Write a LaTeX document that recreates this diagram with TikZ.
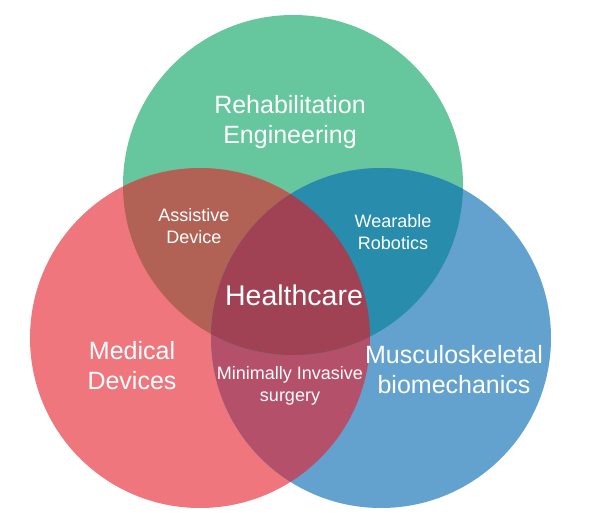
\documentclass[tikz,border=0pt]{standalone}
\usepackage{fontspec}
\setmainfont{Liberation Sans}
\usetikzlibrary{positioning}
\definecolor{crehab}{RGB}{102,199,158}
\definecolor{cmed}{RGB}{240,118,125}
\definecolor{cmus}{RGB}{99,162,207}
\definecolor{cassist}{RGB}{178,98,85}
\definecolor{cwear}{RGB}{40,140,172}
\definecolor{cmininv}{RGB}{180,80,106}
\definecolor{chealth}{RGB}{160,66,84}

\begin{document}
\begin{tikzpicture}[x=1pt, y=-1pt,
    big/.style={text=white, align=center, font=\fontsize{25}{30}\selectfont},
    small/.style={text=white, align=center, font=\fontsize{18}{21.5}\selectfont}]
	     \useasboundingbox (0,0) rectangle (600,529);
	     \def\circr{170pt}
             %
             \coordinate (g) at (293,185);
             \coordinate (r) at (200,338);
             \coordinate (b) at (381,338);
             %
             \fill[crehab] (g) circle[radius=\circr];
             \fill[cmed] (r) circle[radius=\circr];
             \fill[cmus] (b) circle[radius=\circr];
             \begin{scope}
               \clip (r) circle[radius=\circr];
               \fill[cmininv] (b) circle[radius=\circr];
             \end{scope}
             \begin{scope}
               \clip (g) circle[radius=\circr];
               \fill[cassist] (r) circle[radius=\circr];
               \fill[cwear] (b) circle[radius=\circr];
               \clip (r) circle[radius=\circr];
               \fill[chealth] (b) circle[radius=\circr];
             \end{scope}
             %
             \node[big] (rehab) at (290,122) {Rehabilitation\\Engineering};
             \node[big] (med) at (132,366) {Medical\\Devices};
             \node[big] (mus) at (454,370) {Musculoskeletal\\biomechanics};
             \node[big, font=\fontsize{28.5}{34}\selectfont] (health) at (294,295) {Healthcare};
             \node[small] (assist) at (194,226) {Assistive\\Device};
             \node[small] (wear) at (393,232) {Wearable\\Robotics};
             \node[small] (mininv) at (290,386) {Minimally Invasive\\surgery};
          \end{tikzpicture}
\end{document}
